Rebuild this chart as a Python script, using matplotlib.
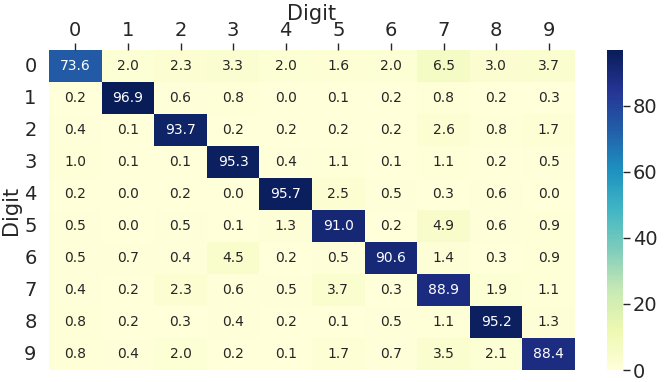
import numpy as np
import matplotlib
matplotlib.use("Agg")
import matplotlib.pyplot as plt
import seaborn as sns

# confusion matrix, row-normalised percentages (rows = true digit)
digits = ["0", "1", "2", "3", "4", "5", "6", "7", "8", "9"]

row0 = [73.6, 2.0, 2.3, 3.3, 2.0, 1.6, 2.0, 6.5, 3.0, 3.7]
row1 = [0.2, 96.9, 0.6, 0.8, 0.0, 0.1, 0.2, 0.8, 0.2, 0.3]
row2 = [0.4, 0.1, 93.7, 0.2, 0.2, 0.2, 0.2, 2.6, 0.8, 1.7]
row3 = [1.0, 0.1, 0.1, 95.3, 0.4, 1.1, 0.1, 1.1, 0.2, 0.5]
row4 = [0.2, 0.0, 0.2, 0.0, 95.7, 2.5, 0.5, 0.3, 0.6, 0.0]
row5 = [0.5, 0.0, 0.5, 0.1, 1.3, 91.0, 0.2, 4.9, 0.6, 0.9]
row6 = [0.5, 0.7, 0.4, 4.5, 0.2, 0.5, 90.6, 1.4, 0.3, 0.9]
row7 = [0.4, 0.2, 2.3, 0.6, 0.5, 3.7, 0.3, 88.9, 1.9, 1.1]
row8 = [0.8, 0.2, 0.3, 0.4, 0.2, 0.1, 0.5, 1.1, 95.2, 1.3]
row9 = [0.8, 0.4, 2.0, 0.2, 0.1, 1.7, 0.7, 3.5, 2.1, 88.4]

cm = np.array([row0, row1, row2, row3, row4, row5, row6, row7, row8, row9])

plt.rcParams['font.family'] = ['DejaVu Sans']
plt.rcParams['text.color'] = '#262626'
plt.rcParams['axes.labelcolor'] = '#262626'
plt.rcParams['xtick.color'] = '#262626'
plt.rcParams['ytick.color'] = '#262626'

fig = plt.figure(figsize=(6.64, 3.82), dpi=100)
ax = fig.add_axes([49 / 664, 12 / 382, 526 / 664, 320 / 382])
cax = fig.add_axes([607 / 664, 12 / 382, 16 / 664, 320 / 382])

sns.heatmap(cm, annot=True, fmt=".1f", cmap="YlGnBu", ax=ax, cbar_ax=cax,
            xticklabels=digits, yticklabels=digits,
            annot_kws={"size": 10})

ax.xaxis.tick_top()
ax.xaxis.set_label_position("top")
ax.set_xlabel("Digit", fontsize=15, labelpad=1)
ax.set_ylabel("Digit", fontsize=15, labelpad=2)
ax.tick_params(axis="x", labelsize=14, length=5, width=1,
               bottom=False, top=True, pad=2)
ax.tick_params(axis="y", labelsize=14, length=0, rotation=0, pad=9)
cax.tick_params(labelsize=14, length=5, width=1, right=True, pad=2)
cax.set_yticks([0, 20, 40, 60, 80])

fig.savefig("out.png", dpi=100)
